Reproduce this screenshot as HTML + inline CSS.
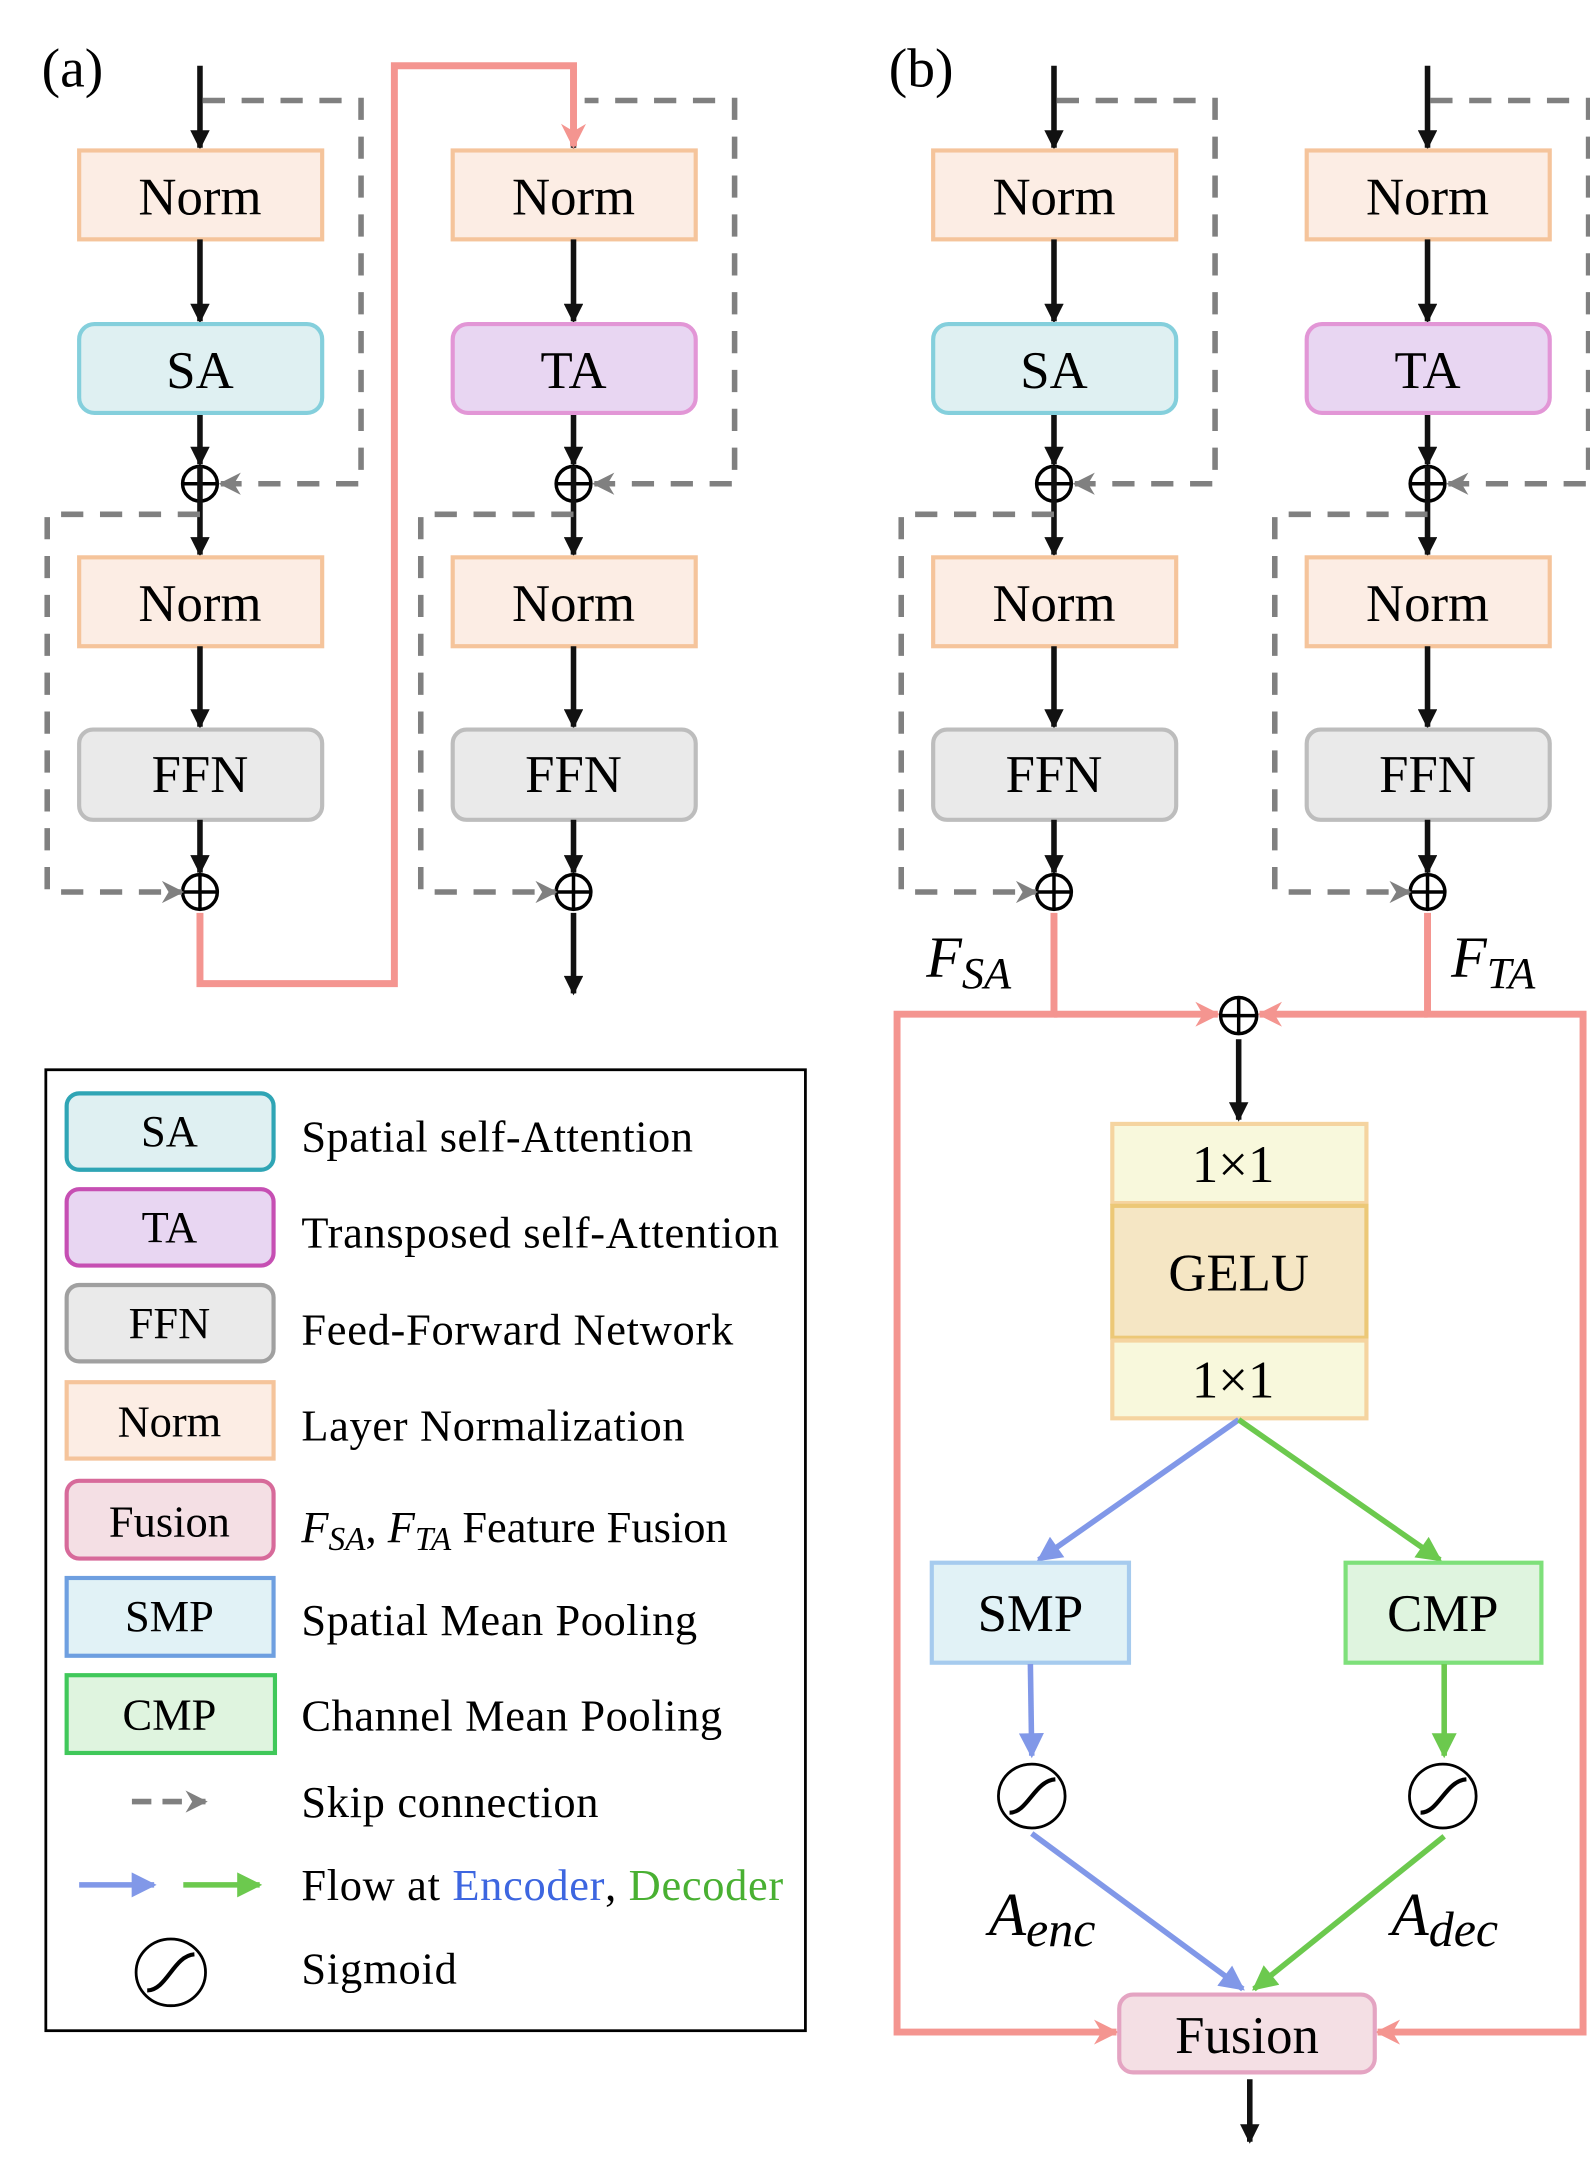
<!DOCTYPE html>
<html><head><meta charset="utf-8"><style>
html,body{margin:0;padding:0;background:#fff}
svg{display:block}
text{font-family:"Liberation Serif",serif;fill:#000}
</style></head><body>
<svg width="1590" height="2177" viewBox="0 0 1145 1567" xmlns="http://www.w3.org/2000/svg">
<defs>
<marker id="ab" viewBox="0 0 10 10" refX="9" refY="5" markerWidth="20" markerHeight="14" orient="auto" markerUnits="userSpaceOnUse"><path d="M0,0 L10,5 L0,10z" fill="#111"/></marker>
<marker id="ag" viewBox="0 0 10 10" refX="9" refY="5" markerWidth="24" markerHeight="16" orient="auto" markerUnits="userSpaceOnUse"><path d="M0,0 L10,5 L0,10 L3,5z" fill="#808080"/></marker>
<marker id="ap" viewBox="0 0 10 10" refX="9" refY="5" markerWidth="28" markerHeight="18" orient="auto" markerUnits="userSpaceOnUse"><path d="M0,0 L10,5 L0,10 L3,5z" fill="#f49590"/></marker>
<marker id="abl" viewBox="0 0 10 10" refX="9" refY="5" markerWidth="20" markerHeight="18" orient="auto" markerUnits="userSpaceOnUse"><path d="M0,0 L10,5 L0,10z" fill="#8198e8"/></marker>
<marker id="agr" viewBox="0 0 10 10" refX="9" refY="5" markerWidth="20" markerHeight="18" orient="auto" markerUnits="userSpaceOnUse"><path d="M0,0 L10,5 L0,10z" fill="#6cc94e"/></marker>
<g id="col">
 <line x1="0" y1="47" x2="0" y2="106" stroke="#111" stroke-width="4" marker-end="url(#ab)"/>
 <rect x="-87" y="108" width="175" height="64" fill="#fcede4" stroke="#f5c49b" stroke-width="3"/>
 <text x="0" y="154" font-size="38" text-anchor="middle">Norm</text>
 <line x1="0" y1="172" x2="0" y2="231" stroke="#111" stroke-width="4" marker-end="url(#ab)"/>
 <line x1="0" y1="297" x2="0" y2="334" stroke="#111" stroke-width="4" marker-end="url(#ab)"/>
 <circle cx="0" cy="348" r="12.5" fill="none" stroke="#000" stroke-width="2.5"/>
 <line x1="-12.5" y1="348" x2="12.5" y2="348" stroke="#000" stroke-width="2.5"/>
 <line x1="0" y1="335" x2="0" y2="399" stroke="#111" stroke-width="4" marker-end="url(#ab)"/>
 <rect x="-87" y="401" width="175" height="64" fill="#fcede4" stroke="#f5c49b" stroke-width="3"/>
 <text x="0" y="447" font-size="38" text-anchor="middle">Norm</text>
 <line x1="0" y1="465" x2="0" y2="523" stroke="#111" stroke-width="4" marker-end="url(#ab)"/>
 <rect x="-87" y="525" width="175" height="65" rx="10" fill="#eaeaea" stroke="#bdbdbd" stroke-width="3"/>
 <text x="0" y="570" font-size="38" text-anchor="middle">FFN</text>
 <line x1="0" y1="590" x2="0" y2="628" stroke="#111" stroke-width="4" marker-end="url(#ab)"/>
 <circle cx="0" cy="642" r="12.5" fill="none" stroke="#000" stroke-width="2.5"/>
 <line x1="-12.5" y1="642" x2="12.5" y2="642" stroke="#000" stroke-width="2.5"/>
 <line x1="0" y1="629" x2="0" y2="655" stroke="#000" stroke-width="2.5"/>
 <path d="M2,72 H116 V348 H15" fill="none" stroke="#808080" stroke-width="4" stroke-dasharray="16,12" marker-end="url(#ag)"/>
 <path d="M0,370 H-110 V642 H-13" fill="none" stroke="#808080" stroke-width="4" stroke-dasharray="16,12" marker-end="url(#ag)"/>
</g>
</defs>

<text x="30" y="62" font-size="40">(a)</text>
<text x="640" y="62" font-size="40">(b)</text>

<!-- (a) -->
<use href="#col" x="144"/>
<rect x="57" y="233" width="175" height="64" rx="11" fill="#dff0f2" stroke="#84cfdc" stroke-width="3"/>
<text x="144" y="279" font-size="38" text-anchor="middle">SA</text>
<use href="#col" x="413"/>
<rect x="326" y="233" width="175" height="64" rx="11" fill="#e8d6f2" stroke="#e296d6" stroke-width="3"/>
<text x="413" y="279" font-size="38" text-anchor="middle">TA</text>
<rect x="405" y="40" width="16" height="65" fill="#fff"/>
<path d="M144,657 V708 H284 V47 H413 V105" fill="none" stroke="#f49590" stroke-width="5" marker-end="url(#ap)"/>
<line x1="413" y1="657" x2="413" y2="715" stroke="#111" stroke-width="4" marker-end="url(#ab)"/>

<!-- (b) -->
<use href="#col" x="759"/>
<rect x="672" y="233" width="175" height="64" rx="11" fill="#dff0f2" stroke="#84cfdc" stroke-width="3"/>
<text x="759" y="279" font-size="38" text-anchor="middle">SA</text>
<use href="#col" x="1028"/>
<rect x="941" y="233" width="175" height="64" rx="11" fill="#e8d6f2" stroke="#e296d6" stroke-width="3"/>
<text x="1028" y="279" font-size="38" text-anchor="middle">TA</text>

<path d="M759,657 V730 H646 V1463 H804" fill="none" stroke="#f49590" stroke-width="5" marker-end="url(#ap)"/>
<line x1="759" y1="730" x2="877" y2="730" stroke="#f49590" stroke-width="5" marker-end="url(#ap)"/>
<path d="M1028,657 V730 H1140 V1463 H992" fill="none" stroke="#f49590" stroke-width="5" marker-end="url(#ap)"/>
<line x1="1028" y1="730" x2="907" y2="730" stroke="#f49590" stroke-width="5" marker-end="url(#ap)"/>
<text x="667" y="703" font-size="42" font-style="italic">F<tspan font-size="32" dy="8">SA</tspan></text>
<text x="1045" y="703" font-size="42" font-style="italic">F<tspan font-size="32" dy="8">TA</tspan></text>
<circle cx="892" cy="731" r="13" fill="none" stroke="#000" stroke-width="2.5"/>
<line x1="879" y1="731" x2="905" y2="731" stroke="#000" stroke-width="2.5"/>
<line x1="892" y1="718" x2="892" y2="744" stroke="#000" stroke-width="2.5"/>
<line x1="892" y1="748" x2="892" y2="806" stroke="#111" stroke-width="4" marker-end="url(#ab)"/>

<rect x="801" y="809" width="183" height="57" fill="#f8f8dc" stroke="#f5d4a0" stroke-width="3"/>
<text x="888" y="851" font-size="38" text-anchor="middle">1×1</text>
<rect x="801" y="868" width="183" height="95" fill="#f5e6c4" stroke="#ecc877" stroke-width="3"/>
<text x="892" y="929" font-size="38" text-anchor="middle">GELU</text>
<rect x="801" y="965" width="183" height="56" fill="#f8f8dc" stroke="#f5d4a0" stroke-width="3"/>
<text x="888" y="1006" font-size="38" text-anchor="middle">1×1</text>

<line x1="892" y1="1022" x2="748" y2="1123" stroke="#8198e8" stroke-width="4" marker-end="url(#abl)"/>
<line x1="892" y1="1022" x2="1037" y2="1123" stroke="#6cc94e" stroke-width="4" marker-end="url(#agr)"/>
<rect x="671" y="1125" width="142" height="72" fill="#e1f2f6" stroke="#a6cbee" stroke-width="3"/>
<text x="742" y="1174" font-size="38" text-anchor="middle">SMP</text>
<rect x="969" y="1125" width="141" height="72" fill="#dff4df" stroke="#7ee07a" stroke-width="3"/>
<text x="1039" y="1174" font-size="38" text-anchor="middle">CMP</text>
<line x1="742" y1="1198" x2="743" y2="1264" stroke="#8198e8" stroke-width="4" marker-end="url(#abl)"/>
<line x1="1040" y1="1198" x2="1040" y2="1264" stroke="#6cc94e" stroke-width="4" marker-end="url(#agr)"/>
<g id="sig" fill="none" stroke="#000">
<ellipse cx="743" cy="1293" rx="24" ry="23" stroke-width="2"/>
<path d="M727,1305 C740,1305 745,1282 760,1281" stroke-width="3"/>
</g>
<use href="#sig" x="296"/>
<line x1="743" y1="1320" x2="895" y2="1432" stroke="#8198e8" stroke-width="4" marker-end="url(#abl)"/>
<line x1="1040" y1="1322" x2="903" y2="1432" stroke="#6cc94e" stroke-width="4" marker-end="url(#agr)"/>
<text x="712" y="1393" font-size="44" font-style="italic">A<tspan font-size="36" dy="8">enc</tspan></text>
<text x="1002" y="1393" font-size="44" font-style="italic">A<tspan font-size="36" dy="8">dec</tspan></text>
<rect x="806" y="1436" width="184" height="56" rx="10" fill="#f4dfe4" stroke="#e4a4c2" stroke-width="3"/>
<text x="898" y="1478" font-size="38" text-anchor="middle">Fusion</text>
<line x1="900" y1="1497" x2="900" y2="1542" stroke="#111" stroke-width="4" marker-end="url(#ab)"/>

<!-- legend -->
<rect x="33" y="770" width="547" height="692" fill="none" stroke="#000" stroke-width="2"/>
<g font-size="32">
<rect x="48" y="787" width="149" height="55" rx="9" fill="#dff0f2" stroke="#2fa5b5" stroke-width="3"/>
<text x="122" y="825" text-anchor="middle">SA</text>
<text x="217" y="829" textLength="282">Spatial self-Attention</text>
<rect x="48" y="856" width="149" height="55" rx="9" fill="#e8d6f2" stroke="#c64fb3" stroke-width="3"/>
<text x="122" y="894" text-anchor="middle">TA</text>
<text x="217" y="898" textLength="344">Transposed self-Attention</text>
<rect x="48" y="925" width="149" height="55" rx="9" fill="#eaeaea" stroke="#a0a0a0" stroke-width="3"/>
<text x="122" y="963" text-anchor="middle">FFN</text>
<text x="217" y="968" textLength="311">Feed-Forward Network</text>
<rect x="48" y="995" width="149" height="55" fill="#fcede4" stroke="#f5c49b" stroke-width="3"/>
<text x="122" y="1034" text-anchor="middle">Norm</text>
<text x="217" y="1037" textLength="276">Layer Normalization</text>
<rect x="48" y="1066" width="149" height="56" rx="9" fill="#f4dfe4" stroke="#d76a9a" stroke-width="3"/>
<text x="122" y="1106" text-anchor="middle">Fusion</text>
<text x="217" y="1110" font-style="italic">F<tspan font-size="24" dy="6">SA</tspan><tspan dy="-6" font-style="normal">, </tspan>F<tspan font-size="24" dy="6">TA</tspan><tspan dy="-6" font-style="normal"> Feature Fusion</tspan></text>
<rect x="48" y="1136" width="149" height="56" fill="#e1f2f6" stroke="#6e9fe0" stroke-width="3"/>
<text x="122" y="1174" text-anchor="middle">SMP</text>
<text x="217" y="1177" textLength="285">Spatial Mean Pooling</text>
<rect x="48" y="1206" width="150" height="56" fill="#dff4df" stroke="#40c85a" stroke-width="3"/>
<text x="122" y="1245" text-anchor="middle">CMP</text>
<text x="217" y="1246" textLength="303">Channel Mean Pooling</text>
<line x1="95" y1="1297" x2="148" y2="1297" stroke="#808080" stroke-width="4" stroke-dasharray="14,8" marker-end="url(#ag)"/>
<text x="217" y="1308" textLength="214">Skip connection</text>
<line x1="57" y1="1357" x2="111" y2="1357" stroke="#8198e8" stroke-width="4" marker-end="url(#abl)"/>
<line x1="132" y1="1357" x2="187" y2="1357" stroke="#6cc94e" stroke-width="4" marker-end="url(#agr)"/>
<text x="217" y="1368" textLength="347">Flow at <tspan fill="#3d66e0">Encoder</tspan>, <tspan fill="#49b032">Decoder</tspan></text>
<ellipse cx="123" cy="1420" rx="25" ry="24" fill="none" stroke="#000" stroke-width="2"/>
<path d="M106,1433 C120,1433 125,1408 140,1407" fill="none" stroke="#000" stroke-width="3"/>
<text x="217" y="1428" textLength="112">Sigmoid</text>
</g>
</svg>
</body></html>
